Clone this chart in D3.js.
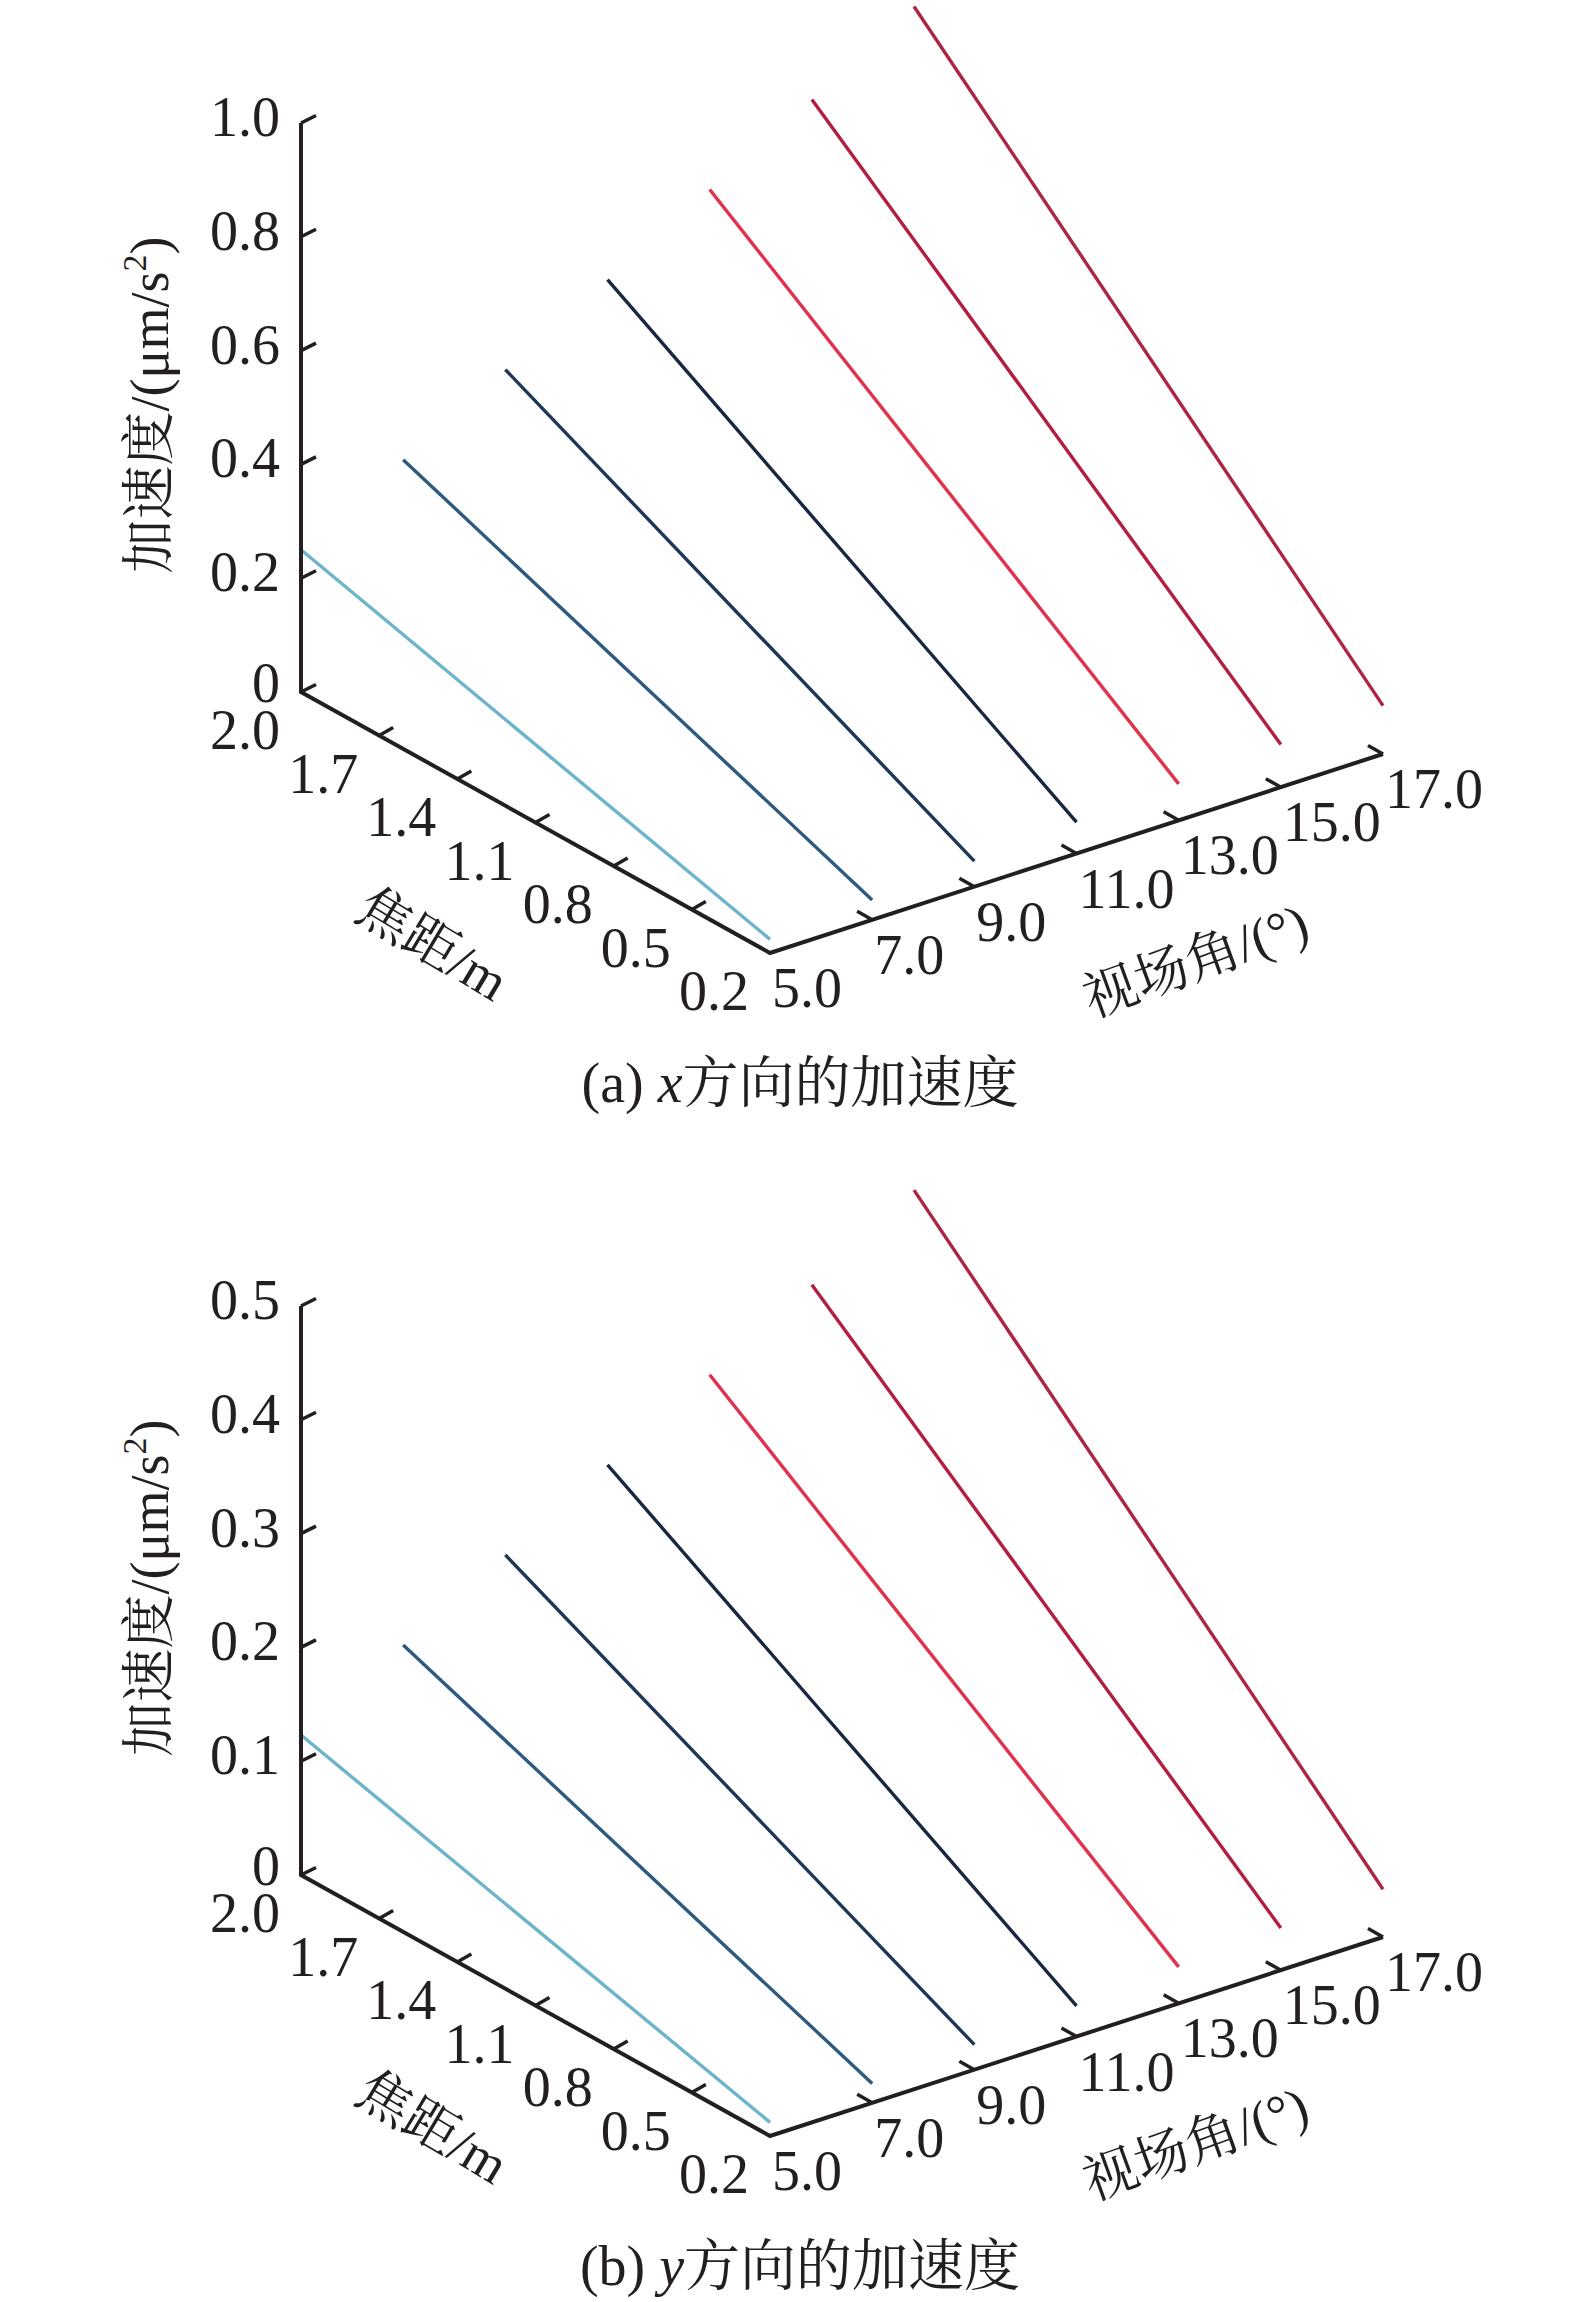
<!DOCTYPE html>
<html>
<head>
<meta charset="utf-8">
<script src="https://cdn.jsdelivr.net/npm/d3@7"></script>
<style>
  body { margin: 0; background: #fff; }
  text { font-family: "Liberation Serif", "Noto Serif CJK SC", "Noto Sans CJK SC", serif; fill: #231f20; }
</style>
</head>
<body>
<div id="chart"></div>
<script>
// axis ticks
var focalTicks = [2.0, 1.7, 1.4, 1.1, 0.8, 0.5, 0.2]
var angleTicks = [5.0, 7.0, 9.0, 11.0, 13.0, 15.0, 17.0]
var accXTicks = [0, 0.2, 0.4, 0.6, 0.8, 1.0]
var accYTicks = [0, 0.1, 0.2, 0.3, 0.4, 0.5]

// one line per view angle, value at focal 2.0 and at focal 0.2
var lineAngles = [5.0, 7.0, 9.0, 11.0, 13.0, 15.0, 17.0]
var accX_f20 = [0.25, 0.35, 0.45, 0.55, 0.65, 0.75, 0.855]
var accX_f02 = [0.024, 0.035, 0.045, 0.055, 0.064, 0.075, 0.085]
var accY_f20 = [0.123, 0.173, 0.223, 0.273, 0.323, 0.373, 0.427]
var accY_f02 = [0.012, 0.017, 0.022, 0.027, 0.032, 0.037, 0.042]

var captions = ['(a) ', '(b) ']
var captionVar = ['x', 'y']

var lineColors = ['#6cb4cb', '#2f5a80', '#1e3758', '#192740', '#e0314d', '#b21f3e', '#ac2643']

var W = 1575, H = 2302
var corner = { x: 770, y: 953 }      // focal 0.2, angle 5, value 0
var focalVec = { x: -469, y: -261 }  // 0.2 -> 2.0
var angleVec = { x: 613, y: -199 }   // 5 -> 17
var zHeight = 569
var panelOffset = 1183
var tickFont = 56

var svg = d3.select('#chart').append('svg')
  .attr('width', W)
  .attr('height', H)

var fScale = d3.scaleLinear().domain([0.2, 2.0]).range([0, 1])
var aScale = d3.scaleLinear().domain([5, 17]).range([0, 1])

var panels = [
  { ticks: accXTicks, max: 1.0, far: accX_f20, near: accX_f02 },
  { ticks: accYTicks, max: 0.5, far: accY_f20, near: accY_f02 }
]

for (var p = 0; p < panels.length; p++) {
  var pan = panels[p]
  var zScale = d3.scaleLinear().domain([0, pan.max]).range([0, zHeight])

  var proj = function(f, a, v) {
    return [
      corner.x + fScale(f) * focalVec.x + aScale(a) * angleVec.x,
      corner.y + fScale(f) * focalVec.y + aScale(a) * angleVec.y - zScale(v)
    ]
  }

  var g = svg.append('g')
    .attr('transform', 'translate(0,' + (p * panelOffset) + ')')

  // data lines
  var lineGen = d3.line()
  lineAngles.forEach(function(ang, i) {
    var pts = [proj(2.0, ang, pan.far[i]), proj(0.2, ang, pan.near[i])]
    g.append('path')
      .attr('d', lineGen(pts))
      .attr('fill', 'none')
      .attr('stroke', lineColors[i])
      .attr('stroke-width', 3.4)
  })

  // axes lines
  var o = proj(2.0, 5, 0)
  var axisPts = [proj(2.0, 5, pan.max), o, proj(0.2, 5, 0), proj(0.2, 17, 0)]
  g.append('path')
    .attr('d', lineGen(axisPts))
    .attr('fill', 'none')
    .attr('stroke', '#231f20')
    .attr('stroke-width', 4)
    .attr('stroke-linejoin', 'miter')

  // vertical ticks
  pan.ticks.forEach(function(t) {
    var q = proj(2.0, 5, t)
    g.append('line')
      .attr('x1', q[0]).attr('y1', q[1])
      .attr('x2', q[0] + 15).attr('y2', q[1] - 7.5)
      .attr('stroke', '#231f20').attr('stroke-width', 3.5)
    g.append('text')
      .attr('x', q[0] - 21)
      .attr('y', q[1] + (t === 0 ? 10 : 13))
      .attr('text-anchor', 'end')
      .attr('font-size', tickFont)
      .text(t === 0 ? '0' : d3.format('.1f')(t))
  })

  // focal ticks
  focalTicks.forEach(function(t) {
    var q = proj(t, 5, 0)
    if (t < 2.0 && t > 0.2) {
      g.append('line')
        .attr('x1', q[0]).attr('y1', q[1])
        .attr('x2', q[0] + 14).attr('y2', q[1] - 8)
        .attr('stroke', '#231f20').attr('stroke-width', 3.5)
    }
    g.append('text')
      .attr('x', q[0] - 56)
      .attr('y', q[1] + 57)
      .attr('text-anchor', 'middle')
      .attr('font-size', tickFont)
      .text(d3.format('.1f')(t))
  })

  // angle ticks
  angleTicks.forEach(function(t) {
    var q = proj(0.2, t, 0)
    if (t > 5) {
      g.append('line')
        .attr('x1', q[0]).attr('y1', q[1])
        .attr('x2', q[0] - 15).attr('y2', q[1] - 8.5)
        .attr('stroke', '#231f20').attr('stroke-width', 3.5)
    }
    g.append('text')
      .attr('x', q[0] + 2)
      .attr('y', q[1] + 54)
      .attr('text-anchor', 'start')
      .attr('font-size', tickFont)
      .text(d3.format('.1f')(t))
  })

  // axis titles
  var yl = g.append('text')
    .attr('transform', 'translate(168,405) rotate(-90)')
    .attr('text-anchor', 'middle')
    .attr('font-size', 54)
  yl.append('tspan').text('加速度/(μm/s')
  yl.append('tspan').attr('font-size', 34).attr('dy', -22).text('2')
  yl.append('tspan').attr('dy', 22).text(')')

  g.append('text')
    .attr('transform', 'translate(423,960) rotate(31)')
    .attr('text-anchor', 'middle')
    .attr('font-size', 54)
    .text('焦距/m')

  g.append('text')
    .attr('transform', 'translate(1202,978) rotate(-20)')
    .attr('text-anchor', 'middle')
    .attr('font-size', 54)
    .text('视场角/(°)')

  // caption
  var cap = g.append('text')
    .attr('x', 800)
    .attr('y', 1102)
    .attr('text-anchor', 'middle')
    .attr('font-size', 56)
  cap.append('tspan').text(captions[p])
  cap.append('tspan').attr('font-style', 'italic').text(captionVar[p])
  cap.append('tspan').text('方向的加速度')
}
</script>
</body>
</html>
